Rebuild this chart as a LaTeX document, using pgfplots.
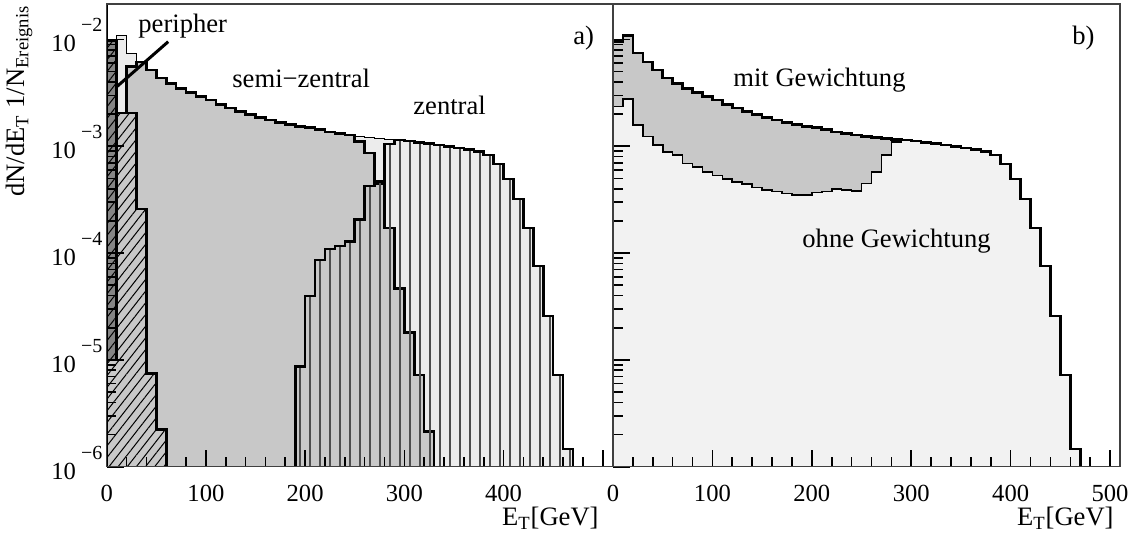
\documentclass[border=0pt]{standalone}
\usepackage{fontspec}
\setmainfont{Liberation Serif}
\usepackage{pgfplots}
\pgfplotsset{compat=1.18}
\usepackage{pgfplotstable}
\usetikzlibrary{patterns.meta}

\definecolor{lightT}{HTML}{ECECEC}
\definecolor{midS}{HTML}{C8C8C8}
\definecolor{darkD}{HTML}{858585}
\definecolor{lightO}{HTML}{F2F2F2}

\newcommand{\tenpow}[1]{10\kern2.5pt\raisebox{10pt}{\fontsize{10}{10}\selectfont −#1}}
\newcommand{\lbl}{\fontsize{13.3}{15}\selectfont}

% total (= mit Gewichtung)
\pgfplotstableread{
x y
0 1e-7
0 9.6e-3
10 1.09e-2
20 7.47e-3
30 6.16e-3
40 5.18e-3
50 4.36e-3
60 3.87e-3
70 3.48e-3
80 3.19e-3
90 2.93e-3
100 2.71e-3
110 2.46e-3
120 2.28e-3
130 2.12e-3
140 1.985e-3
150 1.86e-3
160 1.763e-3
170 1.67e-3
180 1.60e-3
190 1.532e-3
200 1.50e-3
210 1.437e-3
220 1.361e-3
230 1.318e-3
240 1.276e-3
250 1.241e-3
260 1.209e-3
270 1.183e-3
280 1.163e-3
290 1.146e-3
300 1.121e-3
310 1.090e-3
320 1.062e-3
330 1.028e-3
340 1.000e-3
350 9.68e-4
360 9.33e-4
370 8.90e-4
380 8.29e-4
390 6.83e-4
400 4.94e-4
410 3.21e-4
420 1.718e-4
430 7.57e-5
440 2.58e-5
450 7.22e-6
460 1.465e-6
470 1.465e-6
470 1e-7
}\tabT

% semi-zentral
\pgfplotstableread{
x y
20 1e-7
20 5.56e-3
30 6.16e-3
40 5.18e-3
50 4.36e-3
60 3.87e-3
70 3.48e-3
80 3.19e-3
90 2.93e-3
100 2.71e-3
110 2.46e-3
120 2.28e-3
130 2.12e-3
140 1.985e-3
150 1.86e-3
160 1.763e-3
170 1.67e-3
180 1.60e-3
190 1.532e-3
200 1.50e-3
210 1.437e-3
220 1.361e-3
230 1.318e-3
240 1.276e-3
250 1.104e-3
260 8.66e-4
270 4.44e-4
280 1.718e-4
290 4.68e-5
300 1.797e-5
310 7.22e-6
320 2.13e-6
330 2.13e-6
330 1e-7
}\tabS

% zentral
\pgfplotstableread{
x y
190 1e-7
190 8.64e-6
200 3.97e-5
210 8.62e-5
220 1.092e-4
230 1.165e-4
240 1.278e-4
250 2.07e-4
260 4.25e-4
270 4.66e-4
280 1.051e-3
290 1.146e-3
300 1.121e-3
310 1.090e-3
320 1.062e-3
330 1.028e-3
340 1.000e-3
350 9.68e-4
360 9.33e-4
370 8.90e-4
380 8.29e-4
390 6.83e-4
400 4.94e-4
410 3.21e-4
420 1.718e-4
430 7.57e-5
440 2.58e-5
450 7.22e-6
460 1.465e-6
470 1.465e-6
470 1e-7
}\tabZ

% peripher
\pgfplotstableread{
x y
0 1e-7
0 9.8e-3
10 2.05e-3
20 2.05e-3
30 2.59e-4
40 7.49e-6
50 2.24e-6
60 2.24e-6
60 1e-7
}\tabP

\pgfplotstableread{
x y
0 1e-5
0 9.8e-3
10 9.8e-3
10 1e-5
}\tabD

% ohne Gewichtung
\pgfplotstableread{
x y
0 1e-7
0 2.35e-3
10 2.77e-3
20 1.583e-3
30 1.230e-3
40 1.028e-3
50 8.90e-4
60 8.29e-4
70 6.93e-4
80 6.44e-4
90 5.78e-4
100 5.31e-4
110 4.94e-4
120 4.66e-4
130 4.41e-4
140 4.13e-4
150 3.90e-4
160 3.76e-4
170 3.63e-4
180 3.50e-4
190 3.50e-4
200 3.68e-4
210 3.76e-4
220 3.96e-4
230 3.90e-4
240 3.82e-4
250 4.50e-4
260 5.78e-4
270 8.29e-4
280 1.104e-3
290 1.146e-3
300 1.121e-3
310 1.090e-3
320 1.062e-3
330 1.028e-3
340 1.000e-3
350 9.68e-4
360 9.33e-4
370 8.90e-4
380 8.29e-4
390 6.83e-4
400 4.94e-4
410 3.21e-4
420 1.718e-4
430 7.57e-5
440 2.58e-5
450 7.22e-6
460 1.465e-6
470 1.465e-6
470 1e-7
}\tabO

\begin{document}
\begin{tikzpicture}
\path[use as bounding box] (0,0) rectangle (570.5pt,268pt);

\begin{axis}[at={(53.35pt,34.65pt)}, anchor=south west,
  scale only axis, width=253pt, height=231.35pt,
  ymode=log, xmin=0, xmax=510, ymin=1e-6, ymax=0.0215,
  xtick={0,100,200,300,400,500}, minor x tick num=4,
  ytick={1e-6,1e-5,1e-4,1e-3,1e-2},
  xticklabels={0,100,200,300,400,{}},
  yticklabels={\tenpow{6},\tenpow{5},\tenpow{4},\tenpow{3},\tenpow{2}},
  tick pos=left, tick align=inside,
  major tick length=8.5pt, minor tick length=4.8pt,
  tick style={black, line width=0.8pt},
  axis line style={black!75, line width=0.6pt},
  axis on top,
  tick label style={font=\fontsize{12.3}{14}\selectfont},
  xticklabel style={anchor=base, yshift=-17.6pt},
  yticklabel style={anchor=base east, inner sep=0pt, xshift=-2pt, yshift=-6.2pt}]
  \addplot[const plot, fill=lightT, draw=black, line width=0.5pt] table {\tabT};
  \addplot[const plot, draw=black, line width=1.3pt, fill=midS] table {\tabS};
  \addplot[const plot, draw=black, line width=1.3pt,
    pattern={Lines[angle=90,distance=5pt,line width=0.7pt]}, pattern color=black!70] table {\tabZ};
  \addplot[const plot, draw=black, line width=1.3pt, fill=midS,
    postaction={pattern={Lines[angle=52,distance=3.6pt,line width=0.5pt]}, pattern color=black}] table {\tabP};
  \addplot[const plot, draw=black, line width=1.3pt, fill=darkD,
    postaction={pattern={Lines[angle=52,distance=3.6pt,line width=0.5pt]}, pattern color=black}] table {\tabD};
  \draw[line width=1.5pt] (axis cs:62,9.54e-3) -- (axis cs:10.1,3.61e-3);
  \draw[line width=1.2pt] (rel axis cs:0,1) -- (rel axis cs:0,0) -- (rel axis cs:1,0);
\end{axis}

\begin{axis}[at={(306.5pt,34.65pt)}, anchor=south west,
  scale only axis, width=253.5pt, height=231.35pt,
  ymode=log, xmin=0, xmax=510, ymin=1e-6, ymax=0.0215,
  xtick={0,100,200,300,400,500}, minor x tick num=4,
  ytick={1e-6,1e-5,1e-4,1e-3,1e-2},
  xticklabels={0,100,200,300,400,500},
  yticklabels={},
  tick pos=left, tick align=inside,
  major tick length=8.5pt, minor tick length=4.8pt,
  tick style={black, line width=0.8pt},
  axis line style={black!75, line width=0.6pt},
  axis on top,
  tick label style={font=\fontsize{12.3}{14}\selectfont},
  xticklabel style={anchor=base, yshift=-17.6pt}]
  \addplot[const plot, fill=midS, draw=none] table {\tabT};
  \addplot[const plot, fill=lightO, draw=black, line width=0.8pt] table {\tabO};
  \addplot[const plot, draw=black, line width=1.3pt, fill=none] table {\tabT};
  \draw[line width=1.2pt] (rel axis cs:0,1) -- (rel axis cs:0,0) -- (rel axis cs:1,0);
\end{axis}

\node[rotate=90, anchor=base east, inner sep=0pt, font=\lbl] at (12pt,265.5pt)
  {dN/dE\textsubscript{T} 1/N\textsubscript{Ereignis}};
\node[anchor=base east, inner sep=0pt, font=\lbl] at (299.5pt,5.3pt) {E\textsubscript{T}[GeV]};
\node[anchor=base east, inner sep=0pt, font=\lbl] at (557pt,5.3pt) {E\textsubscript{T}[GeV]};
\node[anchor=base west, inner sep=0pt, font=\lbl] at (69pt,251.5pt) {peripher};
\node[anchor=base west, inner sep=0pt, font=\lbl] at (116pt,224pt) {semi−zentral};
\node[anchor=base west, inner sep=0pt, font=\lbl] at (206.5pt,210.5pt) {zentral};
\node[anchor=base west, inner sep=0pt, font=\lbl] at (286.5pt,245.5pt) {a)};
\node[anchor=base west, inner sep=0pt, font=\lbl] at (536pt,245.5pt) {b)};
\node[anchor=base west, inner sep=0pt, font=\lbl] at (366.5pt,224.5pt) {mit Gewichtung};
\node[anchor=base west, inner sep=0pt, font=\lbl] at (401pt,144pt) {ohne Gewichtung};
\end{tikzpicture}
\end{document}
